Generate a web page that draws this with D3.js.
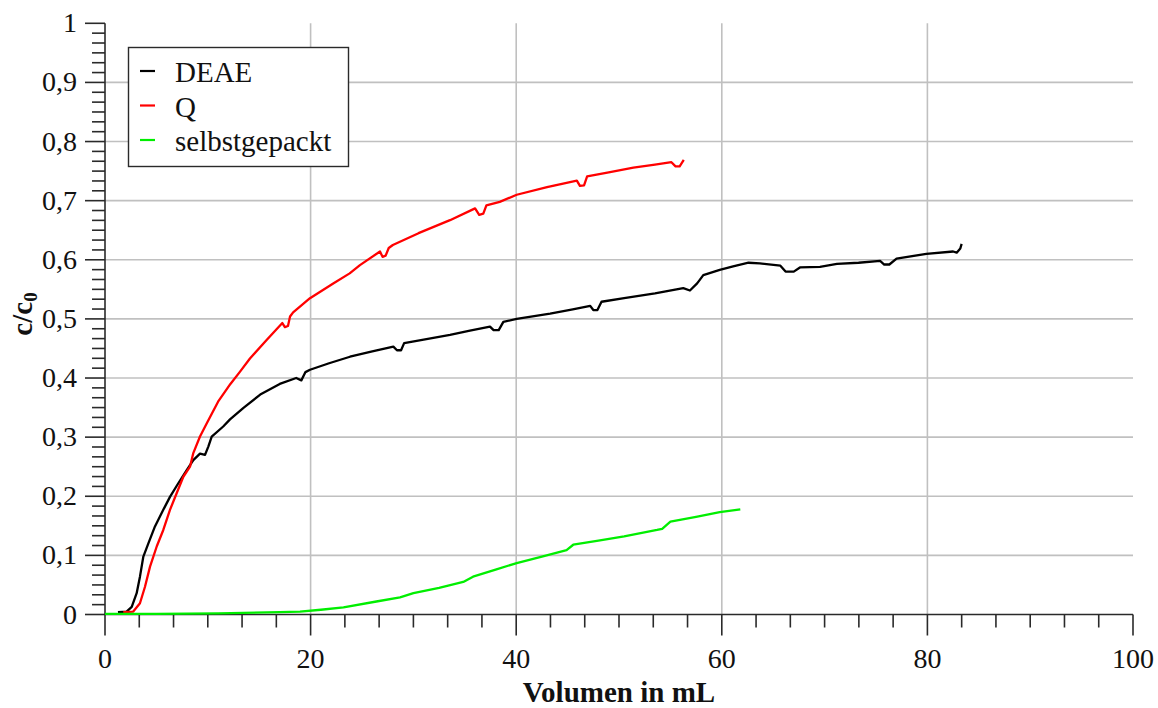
<!DOCTYPE html>
<html>
<head>
<meta charset="utf-8">
<script src="https://cdn.jsdelivr.net/npm/d3@7"></script>
<style>
  html,body{margin:0;padding:0;background:#fff;}
  svg{display:block;}
</style>
</head>
<body>
<svg id="chart" width="1158" height="708"></svg>
<script>
/* ---- data (Volumen in mL, c/c0) ---- */
var seriesNames=['DEAE','Q','selbstgepackt'];
var seriesColors=['#000000','#ff0000','#00ee00'];
var xTicks=[0,20,40,60,80,100];
var yTicks=[0,0.1,0.2,0.3,0.4,0.5,0.6,0.7,0.8,0.9,1];

var deae=[[1.26,0.004],[2.1,0.005],[2.6,0.013],[3.08,0.036],[3.4,0.064],[3.73,0.098],[4.21,0.12],
  [4.86,0.149],[5.67,0.177],[6.32,0.199],[7.13,0.222],[7.95,0.244],[8.59,0.261],[9.24,0.272],
  [9.73,0.27],[10.05,0.284],[10.38,0.301],[11.5,0.318],[12.16,0.33],[13.5,0.35],[15.1,0.372],
  [17,0.39],[18.6,0.4],[19.1,0.396],[19.5,0.41],[19.94,0.414],[21.8,0.425],[23.83,0.436],
  [26,0.445],[28.05,0.453],[28.4,0.447],[28.8,0.447],[29.1,0.459],[31,0.465],[33.56,0.473],
  [35.5,0.48],[37.45,0.487],[37.8,0.481],[38.3,0.481],[38.75,0.495],[40.05,0.5],[43.3,0.509],
  [45.5,0.516],[47.2,0.522],[47.5,0.515],[47.9,0.515],[48.3,0.529],[50.5,0.535],[53.5,0.543],
  [56.25,0.552],[56.9,0.548],[57.6,0.56],[58.2,0.574],[59.8,0.583],[61.1,0.589],[62.6,0.595],
  [63.7,0.594],[65.7,0.59],[66.2,0.58],[67,0.58],[67.6,0.587],[69.55,0.588],[71.2,0.593],
  [73.3,0.595],[75.4,0.598],[75.8,0.592],[76.3,0.592],[77,0.602],[79.9,0.61],[82.5,0.614],
  [82.85,0.612],[83.2,0.619],[83.33,0.627]];

var qSeries=[[1.78,0.004],[2.75,0.005],[3.4,0.019],[3.89,0.047],[4.38,0.081],[5.03,0.115],
  [5.67,0.143],[6.32,0.177],[6.97,0.205],[7.62,0.233],[8.27,0.25],[8.59,0.273],[9.24,0.301],
  [9.89,0.323],[11,0.36],[12.2,0.39],[13.1,0.41],[14.1,0.433],[15.7,0.464],[17.25,0.493],
  [17.5,0.486],[17.8,0.488],[18.0,0.504],[18.3,0.511],[19.94,0.535],[22.2,0.56],[23.8,0.577],
  [24.8,0.591],[26.75,0.614],[27.0,0.605],[27.3,0.607],[27.6,0.62],[28.0,0.625],[30.5,0.645],
  [33.56,0.667],[36.0,0.687],[36.4,0.676],[36.8,0.678],[37.1,0.692],[38.4,0.698],[40.05,0.71],
  [43,0.723],[45.9,0.734],[46.2,0.725],[46.6,0.726],[46.9,0.741],[49,0.748],[51.4,0.756],
  [53.5,0.761],[55.1,0.765],[55.5,0.758],[55.9,0.758],[56.3,0.769]];

var selbst=[[0,0.001],[5,0.001],[11,0.002],[17,0.004],[18.97,0.005],[21,0.008],[23.2,0.012],
  [26.4,0.022],[28.7,0.029],[30,0.036],[32.5,0.045],[34.85,0.055],[35.8,0.064],[38,0.076],
  [40.05,0.087],[42.5,0.098],[44.9,0.109],[45.55,0.118],[48,0.125],[50.5,0.132],[53.7,0.143],
  [54.2,0.145],[55,0.157],[57.5,0.165],[59.8,0.173],[61.8,0.178]];

var allSeries=[deae,qSeries,selbst];

/* ---- layout ---- */
var FONT="'Liberation Serif','Times New Roman','DejaVu Serif',serif";
var svg=d3.select('#chart');
var X0=105, X1=1133, Y0=614.5, Y1=23.3;
var xS=d3.scaleLinear().domain([0,100]).range([X0,X1]);
var yS=d3.scaleLinear().domain([0,1]).range([Y0,Y1]);
var fmt=function(d){return d===0?'0':d===1?'1':d3.format('.1f')(d).replace('.',',');};

/* grid */
var grid=svg.append('g').attr('stroke','#c0c0c0').attr('stroke-width',1.6);
yTicks.filter(function(d){return d>0&&d<1;}).forEach(function(d){
  grid.append('line').attr('x1',X0).attr('x2',X1).attr('y1',yS(d)).attr('y2',yS(d));
});
xTicks.filter(function(d){return d>0&&d<100;}).forEach(function(d){
  grid.append('line').attr('x1',xS(d)).attr('x2',xS(d)).attr('y1',Y1).attr('y2',Y0);
});

/* axes */
var ax=svg.append('g').attr('stroke','#2a2a2a').attr('stroke-width',1.6);
ax.append('line').attr('x1',X0).attr('x2',X1).attr('y1',Y0).attr('y2',Y0);
ax.append('line').attr('x1',X0).attr('x2',X0).attr('y1',Y0).attr('y2',Y1);
d3.range(0,31).forEach(function(i){
  var v=i*100/30, major=(i%6===0);
  ax.append('line').attr('x1',xS(v)).attr('x2',xS(v)).attr('y1',Y0).attr('y2',Y0+(major?21:13));
});
d3.range(0,61).forEach(function(i){
  var v=i/60, major=(i%6===0);
  ax.append('line').attr('y1',yS(v)).attr('y2',yS(v)).attr('x1',X0).attr('x2',X0-(major?20:13));
});

/* tick labels */
svg.append('g').selectAll('text').data(xTicks).join('text')
  .attr('x',function(d){return xS(d);}).attr('y',668)
  .attr('font-family',FONT).attr('fill','#111')
  .attr('text-anchor','middle').attr('font-size','28px').text(function(d){return d;});
svg.append('g').selectAll('text').data(yTicks).join('text')
  .attr('x',77).attr('y',function(d){return yS(d)+9;})
  .attr('font-family',FONT).attr('fill','#111')
  .attr('text-anchor','end').attr('font-size','28px').text(fmt);

/* axis titles */
svg.append('text').attr('x',(X0+X1)/2).attr('y',702).attr('text-anchor','middle')
  .attr('font-family',FONT).attr('fill','#111')
  .attr('font-size','29px').attr('font-weight','bold').text('Volumen in mL');
var yt=svg.append('text').attr('transform','translate(32,314) rotate(-90)')
  .attr('font-family',FONT).attr('fill','#111')
  .attr('text-anchor','middle').attr('font-size','29px').attr('font-weight','bold');
yt.append('tspan').text('c/c');
yt.append('tspan').attr('font-size','19px').attr('dy',5).text('0');

/* curves */
var line=d3.line().x(function(d){return xS(d[0]);}).y(function(d){return yS(d[1]);});
allSeries.forEach(function(s,i){
  svg.append('path').attr('d',line(s)).attr('fill','none')
    .attr('stroke',seriesColors[i]).attr('stroke-width',2.3).attr('stroke-linejoin','round');
});

/* legend */
var lg=svg.append('g');
lg.append('rect').attr('x',128.5).attr('y',47.5).attr('width',220).attr('height',119)
  .attr('fill','#fff').attr('stroke','#2a2a2a').attr('stroke-width',1.4);
seriesNames.forEach(function(n,i){
  var cy=72+i*34.5;
  lg.append('line').attr('x1',140).attr('x2',155).attr('y1',cy-1).attr('y2',cy-1)
    .attr('stroke',seriesColors[i]).attr('stroke-width',2.2);
  lg.append('text').attr('x',175).attr('y',cy+10).attr('font-size','29px')
    .attr('font-family',FONT).attr('fill','#111').text(n);
});
</script>
</body>
</html>
